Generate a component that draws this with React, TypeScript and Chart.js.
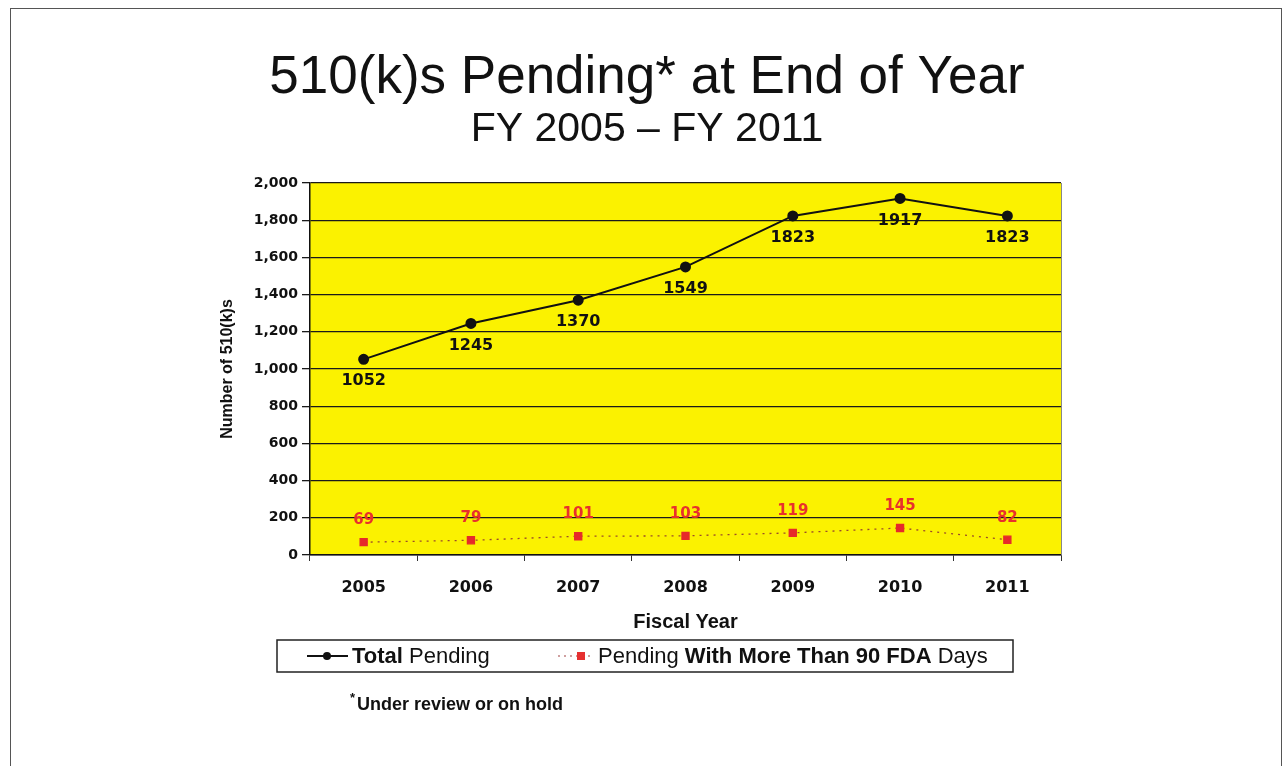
import React, { useEffect, useRef } from "react";
import { Chart, registerables } from "chart.js";

Chart.register(...registerables);

const years = ["2005", "2006", "2007", "2008", "2009", "2010", "2011"];
const totalPending = [1052, 1245, 1370, 1549, 1823, 1917, 1823];
const pendingOver90 = [69, 79, 101, 103, 119, 145, 82];
const seriesNames = ["Total Pending", "Pending With More Than 90 FDA Days"];
const yTicks = [0, 200, 400, 600, 800, 1000, 1200, 1400, 1600, 1800, 2000];
const titleText = "510(k)s Pending* at End of Year";
const subtitleText = "FY 2005 \u2013 FY 2011";
const footnoteText = "Under review or on hold";

const FONT = "'Liberation Sans', Arial, sans-serif";
const WIDE = "'DejaVu Sans', sans-serif";

const fmt = (v: number) => v.toLocaleString("en-US");

const decorPlugin = {
  id: "decor",
  beforeDraw(chart: any) {
    const { ctx, chartArea } = chart;
    ctx.save();
    ctx.fillStyle = "#ffffff";
    ctx.fillRect(0, 0, chart.width, chart.height);
    ctx.fillStyle = "#fbf200";
    ctx.fillRect(chartArea.left, chartArea.top, chartArea.right - chartArea.left, chartArea.bottom - chartArea.top);
    ctx.restore();
  },
  afterDraw(chart: any) {
    const { ctx, chartArea } = chart;
    ctx.save();
    // right border of plot
    ctx.strokeStyle = "#888";
    ctx.lineWidth = 1;
    ctx.beginPath();
    ctx.moveTo(chartArea.right + 0.5, chartArea.top);
    ctx.lineTo(chartArea.right + 0.5, chartArea.bottom);
    ctx.stroke();

    // titles
    ctx.fillStyle = "#111";
    ctx.textAlign = "center";
    ctx.textBaseline = "middle";
    ctx.font = `53px ${FONT}`;
    ctx.fillText(titleText, 647, 78);
    ctx.font = `41px ${FONT}`;
    ctx.fillText(subtitleText, 647, 130);

    // legend box
    const bx = 277, by = 640, bw = 736, bh = 32;
    ctx.strokeStyle = "#222";
    ctx.lineWidth = 1.5;
    ctx.strokeRect(bx, by, bw, bh);
    const ly = by + bh / 2;
    // item 1
    ctx.strokeStyle = "#111";
    ctx.lineWidth = 2;
    ctx.beginPath();
    ctx.moveTo(307, ly);
    ctx.lineTo(348, ly);
    ctx.stroke();
    ctx.fillStyle = "#111";
    ctx.beginPath();
    ctx.arc(327, ly, 4, 0, Math.PI * 2);
    ctx.fill();
    ctx.textAlign = "left";
    ctx.textBaseline = "middle";
    const drawParts = (parts: [string, boolean][], x: number) => {
      let cx = x;
      for (const [t, bold] of parts) {
        ctx.font = `${bold ? "bold " : ""}22px ${FONT}`;
        ctx.fillText(t, cx, ly + 1);
        cx += ctx.measureText(t).width;
      }
    };
    const n1 = seriesNames[0].split(" ");
    drawParts([[n1[0] + " ", true], [n1.slice(1).join(" "), false]], 352);
    // item 2
    ctx.strokeStyle = "#a04040";
    ctx.lineWidth = 1.2;
    ctx.setLineDash([2, 4]);
    ctx.beginPath();
    ctx.moveTo(558, ly);
    ctx.lineTo(594, ly);
    ctx.stroke();
    ctx.setLineDash([]);
    ctx.fillStyle = "#e63030";
    ctx.fillRect(577, ly - 4, 8, 8);
    ctx.fillStyle = "#111";
    const w2 = seriesNames[1].split(" ");
    drawParts(
      [
        [w2[0] + " ", false],
        [w2.slice(1, w2.length - 1).join(" ") + " ", true],
        [w2[w2.length - 1], false],
      ],
      598
    );

    // footnote
    ctx.fillStyle = "#111";
    ctx.font = `bold 13px ${FONT}`;
    ctx.fillText("*", 350, 698);
    ctx.font = `bold 18px ${FONT}`;
    ctx.fillText(footnoteText, 357, 705);
    ctx.restore();
  },
};

const labelsPlugin = {
  id: "pointLabels",
  afterDatasetsDraw(chart: any) {
    const { ctx } = chart;
    ctx.save();
    ctx.textAlign = "center";
    ctx.textBaseline = "middle";
    const m0 = chart.getDatasetMeta(0);
    ctx.font = `bold 16px ${WIDE}`;
    ctx.fillStyle = "#111";
    m0.data.forEach((pt: any, i: number) => {
      ctx.fillText(String(totalPending[i]), pt.x, pt.y + 22);
    });
    const m1 = chart.getDatasetMeta(1);
    ctx.font = `bold 15px ${WIDE}`;
    ctx.fillStyle = "#e8302c";
    m1.data.forEach((pt: any, i: number) => {
      ctx.fillText(String(pendingOver90[i]), pt.x, pt.y - 22);
    });
    ctx.restore();
  },
};

export default function App() {
  const ref = useRef<HTMLCanvasElement | null>(null);
  useEffect(() => {
    if (!ref.current) return;
    const chart = new Chart(ref.current, {
      type: "line",
      data: {
        labels: years,
        datasets: [
          {
            label: seriesNames[0],
            data: totalPending,
            borderColor: "#111",
            backgroundColor: "#111",
            borderWidth: 2,
            pointRadius: 4.5,
            pointBackgroundColor: "#111",
            pointBorderColor: "#111",
            tension: 0,
          },
          {
            label: seriesNames[1],
            data: pendingOver90,
            borderColor: "#9a4a2a",
            backgroundColor: "#e62a2a",
            borderWidth: 1.3,
            borderDash: [2, 5],
            pointStyle: "rect",
            pointRadius: 5,
            pointBackgroundColor: "#e62a2a",
            pointBorderColor: "#e62a2a",
            tension: 0,
          },
        ],
      },
      options: {
        responsive: false,
        animation: false,
        layout: { padding: { top: 183, left: 200, right: 221, bottom: 121 } },
        plugins: {
          legend: { display: false },
          title: { display: false },
          tooltip: { enabled: false },
        },
        scales: {
          x: {
            offset: true,
            grid: {
              display: true,
              offset: true,
              drawOnChartArea: false,
              drawTicks: true,
              tickLength: 6,
              color: "#333",
              lineWidth: 1,
            },
            border: { display: true, color: "#111", width: 1.5 },
            ticks: {
              color: "#111",
              font: { family: WIDE, size: 16, weight: "bold" },
              padding: 17,
            },
            title: {
              display: true,
              text: "Fiscal Year",
              color: "#111",
              font: { family: FONT, size: 20, weight: "bold" },
              padding: { top: 0, bottom: 11 },
            },
            afterFit: (s: any) => {
              s.height = 90;
            },
          },
          y: {
            min: 0,
            max: 2000,
            afterBuildTicks: (s: any) => {
              s.ticks = yTicks.map((v) => ({ value: v }));
            },
            grid: {
              color: "#1a1a1a",
              lineWidth: 1.3,
              tickLength: 8,
            },
            border: { display: true, color: "#111", width: 1.5 },
            ticks: {
              color: "#111",
              font: { family: WIDE, size: 14, weight: "bold" },
              padding: 4,
              callback: (v: any) => fmt(Number(v)),
            },
            title: {
              display: true,
              text: "Number of 510(k)s",
              color: "#111",
              font: { family: FONT, size: 16, weight: "bold" },
              padding: { top: 18, bottom: 0 },
            },
            afterFit: (s: any) => {
              s.width = 110;
            },
          },
        },
      },
      plugins: [decorPlugin, labelsPlugin],
    });
    return () => chart.destroy();
  }, []);
  return (
    <div
      style={{
        position: "fixed",
        left: 0,
        top: 0,
        width: 1282,
        height: 766,
        background: "#fff",
      }}
    >
      <canvas ref={ref} width={1282} height={766} style={{ display: "block" }} />
      <div
        style={{
          position: "absolute",
          left: 10,
          top: 8,
          width: 1270,
          height: 780,
          borderTop: "1.5px solid #555",
          borderLeft: "1.5px solid #555",
          borderRight: "1.5px solid #555",
          pointerEvents: "none",
        }}
      />
    </div>
  );
}
